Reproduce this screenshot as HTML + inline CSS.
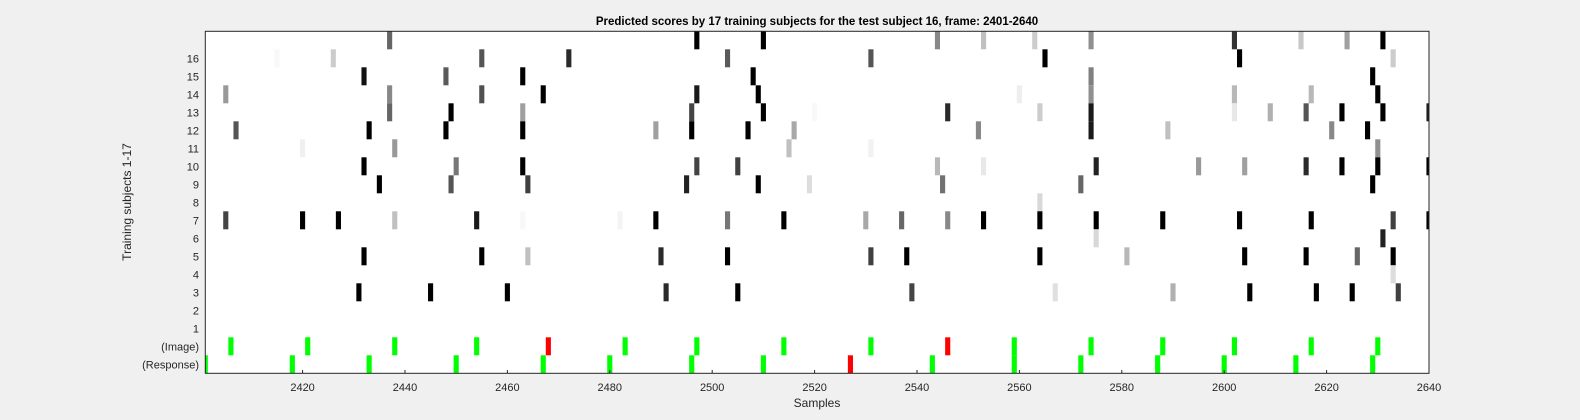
<!DOCTYPE html>
<html><head><meta charset="utf-8"><style>
body{margin:0;background:#f0f0f0;width:1580px;height:420px;overflow:hidden;font-family:"Liberation Sans",Arial,sans-serif}
</style></head><body>
<svg id="chart" width="1580" height="420" xmlns="http://www.w3.org/2000/svg" style="position:absolute;left:0;top:0">
<defs><clipPath id="pc"><rect x="205.3" y="31.3" width="1223.7" height="342"/></clipPath></defs>
<rect x="205.3" y="31.3" width="1223.7" height="342" fill="#fff"/>
<g id="marks" clip-path="url(#pc)"></g>
<rect x="205.3" y="31.3" width="1223.7" height="342" fill="none" stroke="#262626" stroke-width="1"/>
<g id="axes"></g>
<text x="817" y="25" text-anchor="middle" font-size="11.5" font-weight="bold" fill="#000">Predicted scores by 17 training subjects for the test subject 16, frame: 2401-2640</text>
<text x="817" y="407" text-anchor="middle" font-size="12" fill="#262626">Samples</text>
<text transform="translate(131,202) rotate(-90)" text-anchor="middle" font-size="12" fill="#262626">Training subjects 1-17</text>
</svg>
<script>
const xTicks=[2420,2440,2460,2480,2500,2520,2540,2560,2580,2600,2620,2640];
const rowLabels=['16','15','14','13','12','11','10','9','8','7','6','5','4','3','2','1','(Image)','(Response)'];
// subject rows 17..1 : [sample, gray level 0=black 255=white]
const subjectSamples=[
[2437,2497,2510,2544,2553,2563,2574,2602,2615,2624,2631],
[2415,2426,2455,2472,2503,2531,2565,2603,2633],
[2432,2448,2463,2508,2574,2629],
[2405,2437,2455,2467,2497,2509,2560,2574,2602,2617,2630],
[2437,2449,2463,2496,2510,2520,2546,2564,2574,2602,2609,2616,2623,2631,2640],
[2407,2433,2448,2463,2489,2496,2507,2516,2552,2574,2589,2621,2628],
[2420,2438,2515,2531,2630],
[2432,2450,2463,2497,2505,2544,2553,2575,2595,2604,2616,2623,2630,2640],
[2435,2449,2464,2495,2509,2519,2545,2572,2629],
[2564],
[2405,2420,2427,2438,2454,2463,2482,2489,2503,2514,2530,2537,2546,2553,2564,2575,2588,2603,2617,2633,2640],
[2575,2631],
[2432,2455,2464,2490,2503,2531,2538,2564,2581,2604,2616,2626,2633],
[2633],
[2431,2445,2460,2491,2505,2539,2567,2590,2605,2618,2625,2634],
[],
[]];
const subjectGrays=[
[102,0,0,136,192,204,144,51,200,160,0],
[248,204,85,42,90,85,0,0,204],
[17,90,0,0,128,0],
[153,136,80,0,26,0,238,144,184,184,0],
[102,0,160,68,0,248,42,204,26,232,176,85,0,0,30],
[85,0,0,0,160,0,0,168,136,26,192,136,0],
[240,153,192,242,144],
[0,119,0,68,64,184,232,34,153,160,42,0,0,0],
[0,85,64,34,0,221,112,102,0],
[216],
[68,0,0,192,26,248,244,0,119,0,168,102,136,0,0,0,0,0,0,64,0],
[216,34],
[0,0,192,42,0,64,0,0,184,0,0,102,0],
[221],
[0,0,0,42,0,68,224,176,0,0,0,64],
[],
[]];
const imageGreen=[2406,2421,2438,2454,2483,2497,2514,2531,2559,2574,2588,2602,2617,2630];
const imageRed=[2468,2546];
const responseGreen=[2401,2418,2433,2450,2467,2480,2496,2510,2543,2559,2572,2587,2600,2614,2629];
const responseRed=[2527];

const X0=205.3,X1=1429,Y0=31.3,RH=18,XMIN=2401,XMAX=2640;
const sx=s=>X0+(s-XMIN)*(X1-X0)/(XMAX-XMIN);
const rowTop=i=>Y0+i*RH;
const NS='http://www.w3.org/2000/svg';
const marks=document.getElementById('marks');
const axes=document.getElementById('axes');
function cell(s,row,fill,name){
  const r=document.createElementNS(NS,'rect');
  const w=sx(s+0.5)-sx(s-0.5);
  r.setAttribute('x',sx(s-0.5));r.setAttribute('y',rowTop(row));
  r.setAttribute('width',w);r.setAttribute('height',RH);
  r.setAttribute('fill',fill);
  
  
  marks.appendChild(r);
}
subjectSamples.forEach((arr,i)=>{
  arr.forEach((s,j)=>{
    const g=subjectGrays[i][j];
    cell(s,i,`rgb(${g},${g},${g})`,'score-cell-subject-'+(17-i)+'-'+s);
  });
});
imageGreen.forEach(s=>cell(s,17,'#00ff00','image-correct-'+s));
imageRed.forEach(s=>cell(s,17,'#ff0000','image-wrong-'+s));
responseGreen.forEach(s=>cell(s,18,'#00ff00','response-correct-'+s));
responseRed.forEach(s=>cell(s,18,'#ff0000','response-wrong-'+s));

xTicks.forEach(t=>{
  const x=sx(t);
  const tx=document.createElementNS(NS,'text');
  tx.setAttribute('x',x);tx.setAttribute('y',391);
  tx.setAttribute('text-anchor','middle');tx.setAttribute('font-size','11');tx.setAttribute('fill','#262626');
  tx.textContent=t;
  
  
  axes.appendChild(tx);
  const l=document.createElementNS(NS,'line');
  l.setAttribute('x1',x);l.setAttribute('x2',x);l.setAttribute('y1',373.3);l.setAttribute('y2',370);
  l.setAttribute('stroke','#262626');
  
  
  axes.appendChild(l);
});
rowLabels.forEach((lab,k)=>{
  const i=k+1;
  const y=rowTop(i)+RH/2;
  const tx=document.createElementNS(NS,'text');
  tx.setAttribute('x',199);tx.setAttribute('y',y+4);
  tx.setAttribute('text-anchor','end');tx.setAttribute('font-size','11');tx.setAttribute('fill','#262626');
  tx.textContent=lab;
  
  
  axes.appendChild(tx);
});
</script>
</body></html>
